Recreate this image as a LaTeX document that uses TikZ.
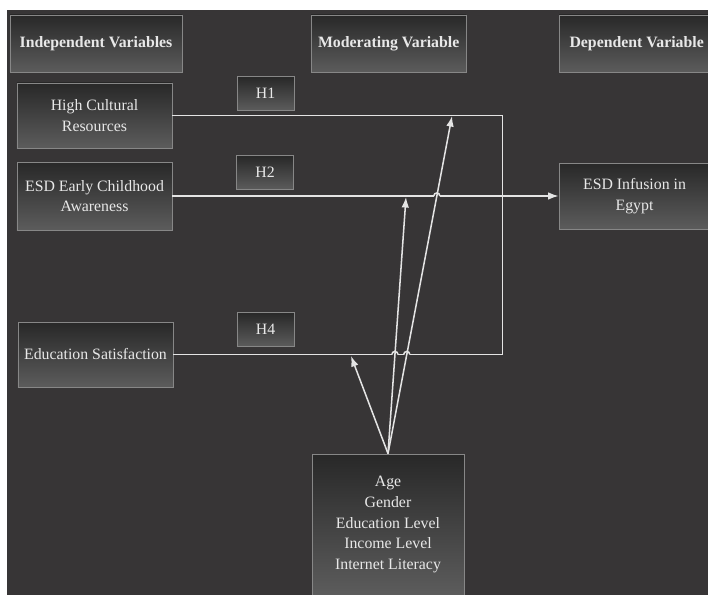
\documentclass[tikz,border=0pt]{standalone}
\usepackage{fontspec}
\setmainfont{Liberation Serif}
\usetikzlibrary{arrows.meta,calc}
\definecolor{bgdark}{RGB}{55,53,54}
\definecolor{boxtop}{RGB}{40,40,40}
\definecolor{boxbot}{RGB}{92,92,92}
\definecolor{edge}{RGB}{135,135,135}
\definecolor{wirecol}{RGB}{228,228,228}
\definecolor{txtcol}{RGB}{232,232,232}
\tikzstyle{block} = [draw=edge, line width=0.7pt, top color=boxtop, bottom color=boxbot,
    rectangle, text=txtcol, align=center, inner sep=0pt,
    font=\fontsize{13.5}{17.6}\selectfont]
\tikzstyle{head} = [block, minimum width=4.65cm, minimum height=1.71cm,
    font=\fontsize{13.5}{17.6}\selectfont\bfseries]
\tikzstyle{varbox} = [block, minimum width=4.65cm, minimum height=1.95cm]
\tikzstyle{hyp} = [block, minimum width=1.71cm, minimum height=1.02cm]
\tikzstyle{wire} = [draw=wirecol, line width=1.3pt]

\begin{document}
\begin{tikzpicture}[x=0.03cm,y=-0.03cm,>={Latex[length=9pt,width=6.5pt]}]
    \useasboundingbox (0,0) rectangle (708,595);
    \fill[bgdark] (7,10) rectangle (708,595);
    % headers
    \node [head, minimum width=5.16cm] (indep) at (96,43.5) {Independent Variables};
    \node [head, right of=indep, node distance=8.78cm] (moder) {Moderating Variable};
    \node [head, right of=moder, node distance=7.44cm] (dep) {Dependent Variable};
    % variables
    \node [varbox] (hcr) at (94.5,115.5) {High Cultural\\Resources};
    \node [varbox, below of=hcr, node distance=2.415cm, minimum height=2.04cm] (esd) {ESD Early Childhood\\Awareness};
    \node [varbox] (edu) at (95.5,354.5) {Education Satisfaction};
    \node [varbox, right of=esd, node distance=16.2cm, minimum width=4.53cm, minimum height=1.98cm] (infusion) {ESD Infusion in\\Egypt};
    \node [block, minimum width=4.56cm, minimum height=4.23cm] (mod) at (388,524.5) {Age\\Gender\\Education Level\\Income Level\\Internet Literacy};
    % hypotheses
    \node [hyp] (h1) at (265.5,93.5) {H1};
    \node [hyp] (h2) at (265,172.5) {H2};
    \node [hyp] (h4) at (265.5,329.5) {H4};
    % links
    \coordinate (c1) at ($(hcr.east)+(330,0)$);
    \coordinate (c2) at (c1 |- edu.east);
    \draw [wire] (hcr.east) -- (c1) -- (c2) -- (edu.east);
    \draw [wire,->] (esd.east) -- (infusion.west);
    \coordinate (t4) at (351,356);
    \coordinate (t2) at (406,197);
    \coordinate (t1) at (452,116);
    \coordinate (x1) at (intersection of mod.north--t2 and edu.east--c2);
    \coordinate (x2) at (intersection of mod.north--t1 and edu.east--c2);
    \coordinate (x3) at (intersection of mod.north--t1 and esd.east--infusion.west);
    \foreach \j in {x1,x2,x3}
        \fill [bgdark] ($(\j)+(-2.6pt,-0.9pt)$) rectangle ($(\j)+(2.6pt,0.9pt)$);
    \draw [wire,->] (mod.north) -- (t4);
    \draw [wire,->] (mod.north) -- (t2);
    \draw [wire,->] (mod.north) -- (t1);
    \foreach \j in {x1,x2,x3}
        \draw [wire] ($(\j)+(-2.6pt,0)$) arc (180:0:2.6pt);
\end{tikzpicture}
\end{document}
